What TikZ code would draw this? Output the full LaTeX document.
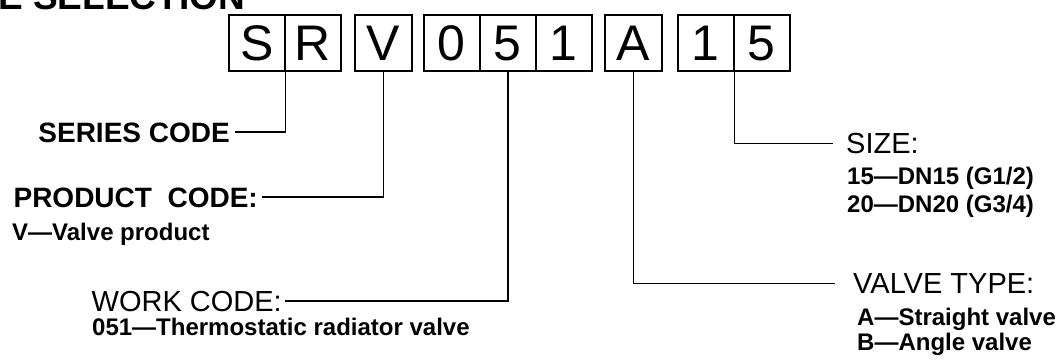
\documentclass[tikz,border=0pt]{standalone}
\usepackage{fontspec}
\setmainfont{Liberation Sans}

\tikzset{
  cell/.style={draw, line width=1.6pt, anchor=north west, minimum width=56pt, minimum height=56pt,
               inner sep=0pt, text height=35pt, text depth=0pt, font=\fontsize{50}{50}\selectfont},
  widecell/.style={cell, minimum width=57pt},
  code/.style={inner sep=0pt, text height=20pt, text depth=0pt, font=\bfseries\fontsize{28}{28}\selectfont},
  coderm/.style={inner sep=0pt, text height=20pt, text depth=0pt, font=\fontsize{29}{29}\selectfont},
  note/.style={inner sep=0pt, anchor=base west, font=\bfseries\fontsize{24}{24}\selectfont},
  lead/.style={line width=1.6pt},
}

\begin{document}
\begin{tikzpicture}[x=1pt, y=-1pt]
\useasboundingbox (0,0) rectangle (1057,359);

\node[anchor=base west, inner sep=0pt, font=\bfseries\fontsize{37}{37}\selectfont] (title) at (-2,9) {E SELECTION};

% code boxes
\node[cell] (cS) at (228,14) {S};
\node[cell] (cR) at (284,14) {R};
\node[widecell] (cV) at (354,14) {V};
\node[cell] (c0) at (423,14) {0};
\node[cell] (c5) at (479,14) {5};
\node[cell] (c1) at (535,14) {1};
\node[widecell] (cA) at (604,14) {A};
\node[cell] (cOne) at (677,14) {1};
\node[cell] (cFive) at (733,14) {5};

% left labels
\node[code, anchor=east] (series) at (230,132) {SERIES CODE};
\node[code, anchor=east] (product) at (258,197) {PRODUCT\ \ CODE:};
\node[note] (productnote) at (12,240) {V—Valve product};
\node[coderm, anchor=east] (work) at (282,301) {WORK CODE:};
\node[note] (worknote) at (92,335) {051—Thermostatic radiator valve};

% right labels
\node[coderm, anchor=west] (size) at (846,143.5) {SIZE:};
\node[note] (size15) at (847,184) {15—DN15 (G1/2)};
\node[note] (size20) at (847,212) {20—DN20 (G3/4)};
\node[coderm, anchor=west] (valve) at (853,283.5) {VALVE TYPE:};
\node[note] (valveA) at (857,325) {A—Straight valve};
\node[note] (valveB) at (857,350) {B—Angle valve};

\draw[lead, shorten >=5pt] (cS.south east) |- (series.east);
\draw[lead, shorten >=4pt] (cV.south) |- (product.east);
\draw[lead, shorten >=3pt] (c5.south) |- (work.east);
\draw[lead, shorten >=18pt] (cA.south) |- (valve.west);
\draw[lead, shorten >=13pt] (cOne.south east) |- (size.west);

\end{tikzpicture}
\end{document}
